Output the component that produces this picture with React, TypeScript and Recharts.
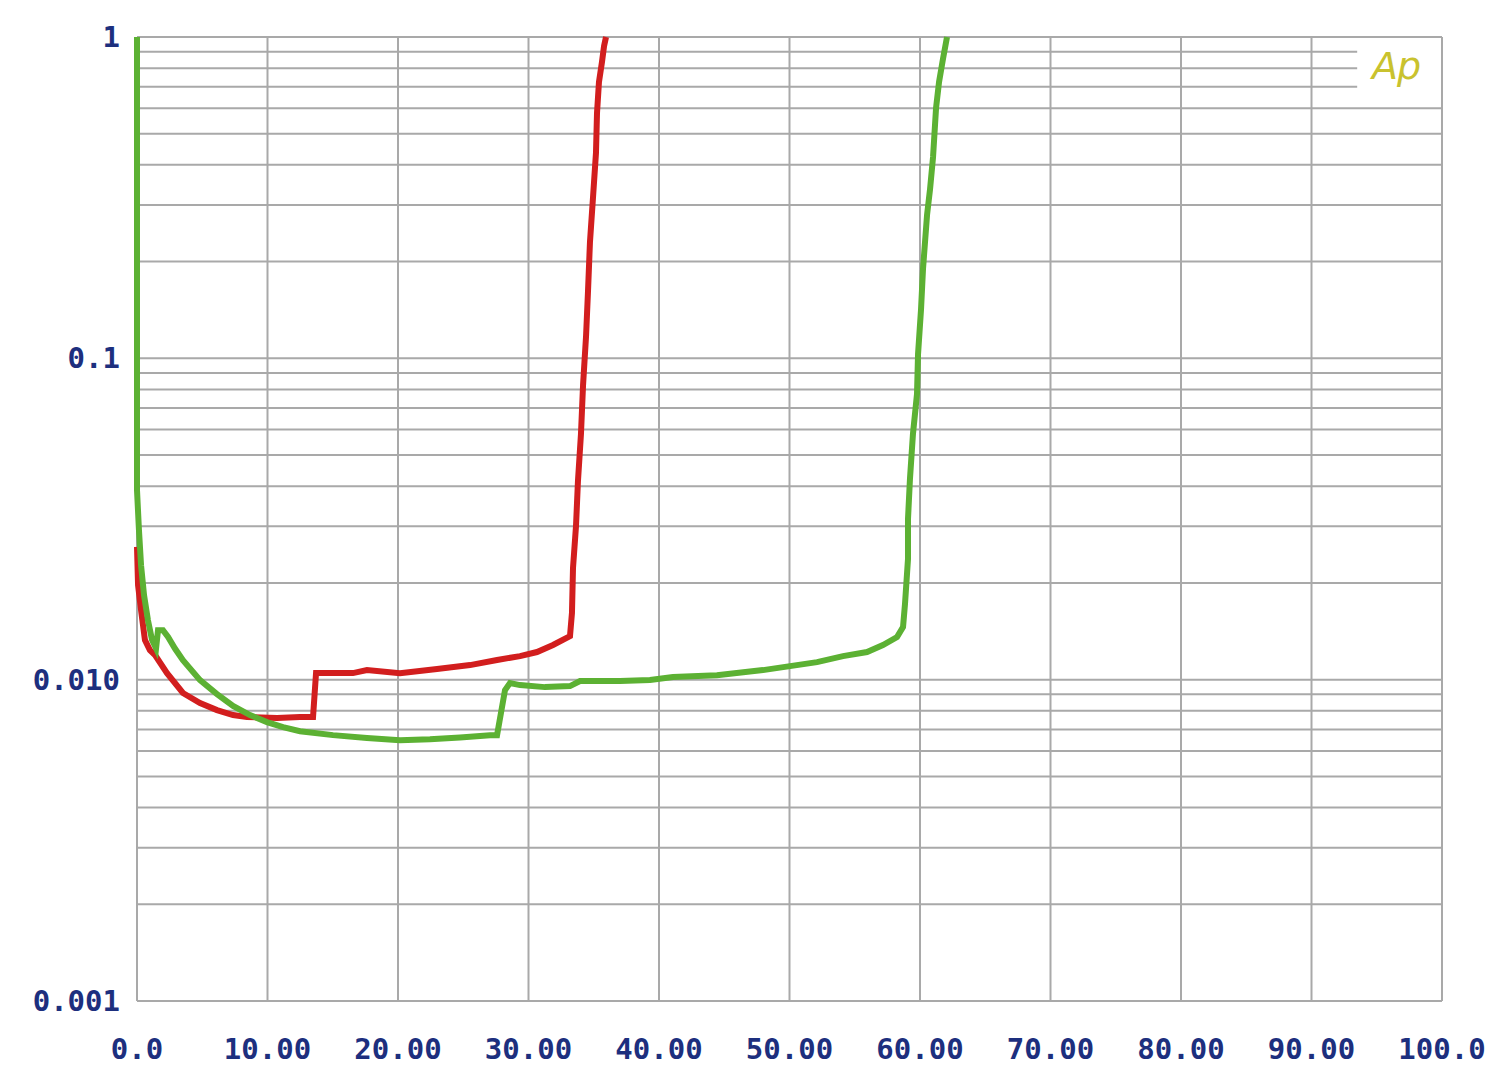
import React from 'react';
import { LineChart, Line, XAxis, YAxis, ReferenceLine } from 'recharts';

// x ticks and labels
const xTicks = [0, 10, 20, 30, 40, 50, 60, 70, 80, 90, 100];
const xLabels = ['0.0', '10.00', '20.00', '30.00', '40.00', '50.00', '60.00', '70.00', '80.00', '90.00', '100.0'];

// y ticks (log) and labels
const yTicks = [0.001, 0.01, 0.1, 1];
const yLabels = ['0.001', '0.010', '0.1', '1'];

// horizontal grid lines (log minor steps)
const yGridFull = [
  0.002, 0.003, 0.004, 0.005, 0.006, 0.007, 0.008, 0.009, 0.01,
  0.02, 0.03, 0.04, 0.05, 0.06, 0.07, 0.08, 0.09, 0.1,
  0.2, 0.3, 0.4, 0.5, 0.6, 1,
];
// these stop short of the Ap logo
const yGridShort = [0.7, 0.8, 0.9];
const shortGridEnd = 93.5;

// red trace
const redX = [
  0, 0.08, 0.31, 0.46, 0.61, 0.99, 1.38, 2.3, 3.52, 4.83, 6.13, 7.36, 8.43, 10.73, 12.49, 13.49,
  13.72, 16.55, 17.62, 20.15, 22.99, 25.52, 27.59, 29.35, 30.65, 31.88, 33.18, 33.33, 33.41,
  33.64, 33.79, 34.02, 34.18, 34.41, 34.56, 34.71, 34.94, 35.17, 35.25, 35.4, 35.63, 35.79, 35.94,
];
const redY = [
  0.0259, 0.0197, 0.01647, 0.01479, 0.01328, 0.01236, 0.01193, 0.01048, 0.00909, 0.00846, 0.00804,
  0.00776, 0.00765, 0.0076, 0.00765, 0.00765, 0.01048, 0.01048, 0.01071, 0.01048, 0.01079, 0.0111,
  0.01151, 0.01184, 0.01219, 0.01282, 0.01367, 0.01612, 0.02225, 0.03006, 0.0415, 0.05811, 0.08257,
  0.1173, 0.162, 0.2301, 0.3155, 0.4355, 0.5801, 0.7244, 0.8359, 0.9375, 1.0,
];

// green trace
const greenX = [
  0, 0, 0.15, 0.31, 0.54, 0.84, 1.15, 1.46, 1.61, 1.99, 2.38, 2.91, 3.52, 4.83, 6.13, 7.36, 8.66,
  9.96, 11.19, 12.49, 15.02, 17.62, 20.15, 22.45, 24.75, 27.05, 27.59, 28.2, 28.58, 29.35, 31.26,
  33.18, 33.95, 37.01, 39.31, 41.07, 44.44, 47.97, 50.04, 52.11, 54.1, 55.94, 57.16, 58.24, 58.7,
  58.85, 59.08, 59.08, 59.23, 59.46, 59.77, 59.85, 60.08, 60.23, 60.54, 60.77, 61.0, 61.23, 61.46,
  61.76, 62.07,
];
const greenY = [
  1.0, 0.0389, 0.0292, 0.0227, 0.0183, 0.0153, 0.0133, 0.0125, 0.01426, 0.01426, 0.01358, 0.0125,
  0.0115, 0.00997, 0.00902, 0.00828, 0.00776, 0.00738, 0.00712, 0.00691, 0.00672, 0.00658, 0.00648,
  0.00652, 0.00661, 0.00672, 0.00672, 0.00928, 0.00976, 0.00962, 0.00948, 0.00955, 0.0099, 0.0099,
  0.00997, 0.01019, 0.01033, 0.01071, 0.01102, 0.01134, 0.01184, 0.01219, 0.01282, 0.01357, 0.01458,
  0.01719, 0.02373, 0.03161, 0.0421, 0.05811, 0.07742, 0.1031, 0.1423, 0.1896, 0.2793, 0.3364,
  0.4231, 0.6012, 0.7244, 0.8541, 1.0,
];

const redData = redX.map((x, i) => ({ x, y: redY[i] }));
const greenData = greenX.map((x, i) => ({ x, y: greenY[i] }));

const GRID = '#a9a9a9';
const LABEL = '#1d2f7e';
const FONT = '"DejaVu Sans Mono", monospace';

const XTick = (props: any) => {
  const { x, payload } = props;
  const i = xTicks.indexOf(payload.value);
  return (
    <text x={x} y={1049} textAnchor="middle" dominantBaseline="central"
      fill={LABEL} fontFamily={FONT} fontWeight="bold" fontSize={29}>
      {xLabels[i]}
    </text>
  );
};

const YTick = (props: any) => {
  const { y, payload } = props;
  const i = yTicks.indexOf(payload.value);
  return (
    <text x={120} y={y} textAnchor="end" dominantBaseline="central"
      fill={LABEL} fontFamily={FONT} fontWeight="bold" fontSize={29}>
      {yLabels[i]}
    </text>
  );
};

export default function App() {
  return (
    <div style={{ position: 'absolute', left: 0, top: 0, width: 1500, height: 1072, background: '#fff' }}>
      <LineChart width={1500} height={1072} margin={{ top: 37, right: 58, bottom: 0, left: 0 }}>
        <XAxis
          dataKey="x"
          type="number"
          domain={[0, 100]}
          ticks={xTicks}
          tick={<XTick />}
          axisLine={false}
          tickLine={false}
          height={71}
        />
        <YAxis
          dataKey="y"
          type="number"
          scale="log"
          domain={[0.001, 1]}
          ticks={yTicks}
          tick={<YTick />}
          axisLine={false}
          tickLine={false}
          width={137}
        />
        {xTicks.map((v) => (
          <ReferenceLine key={'vx' + v} x={v} stroke={GRID} strokeWidth={2} />
        ))}
        <ReferenceLine y={0.001} stroke={GRID} strokeWidth={2} />
        {yGridFull.map((v) => (
          <ReferenceLine key={'hy' + v} y={v} stroke={GRID} strokeWidth={2} />
        ))}
        {yGridShort.map((v) => (
          <ReferenceLine
            key={'hs' + v}
            segment={[{ x: 0, y: v }, { x: shortGridEnd, y: v }]}
            stroke={GRID}
            strokeWidth={2}
          />
        ))}
        <Line data={redData} dataKey="y" type="linear" stroke="#d21e1e" strokeWidth={6}
          dot={false} isAnimationActive={false} />
        <Line data={greenData} dataKey="y" type="linear" stroke="#5cb133" strokeWidth={6}
          dot={false} isAnimationActive={false} />
      </LineChart>
      <div
        style={{
          position: 'absolute',
          left: 1372,
          top: 44,
          fontFamily: '"DejaVu Sans", sans-serif',
          fontStyle: 'italic',
          fontWeight: 'normal',
          fontSize: 38,
          color: '#c9c22e',
          letterSpacing: -1,
        }}
      >
        Ap
      </div>
    </div>
  );
}
